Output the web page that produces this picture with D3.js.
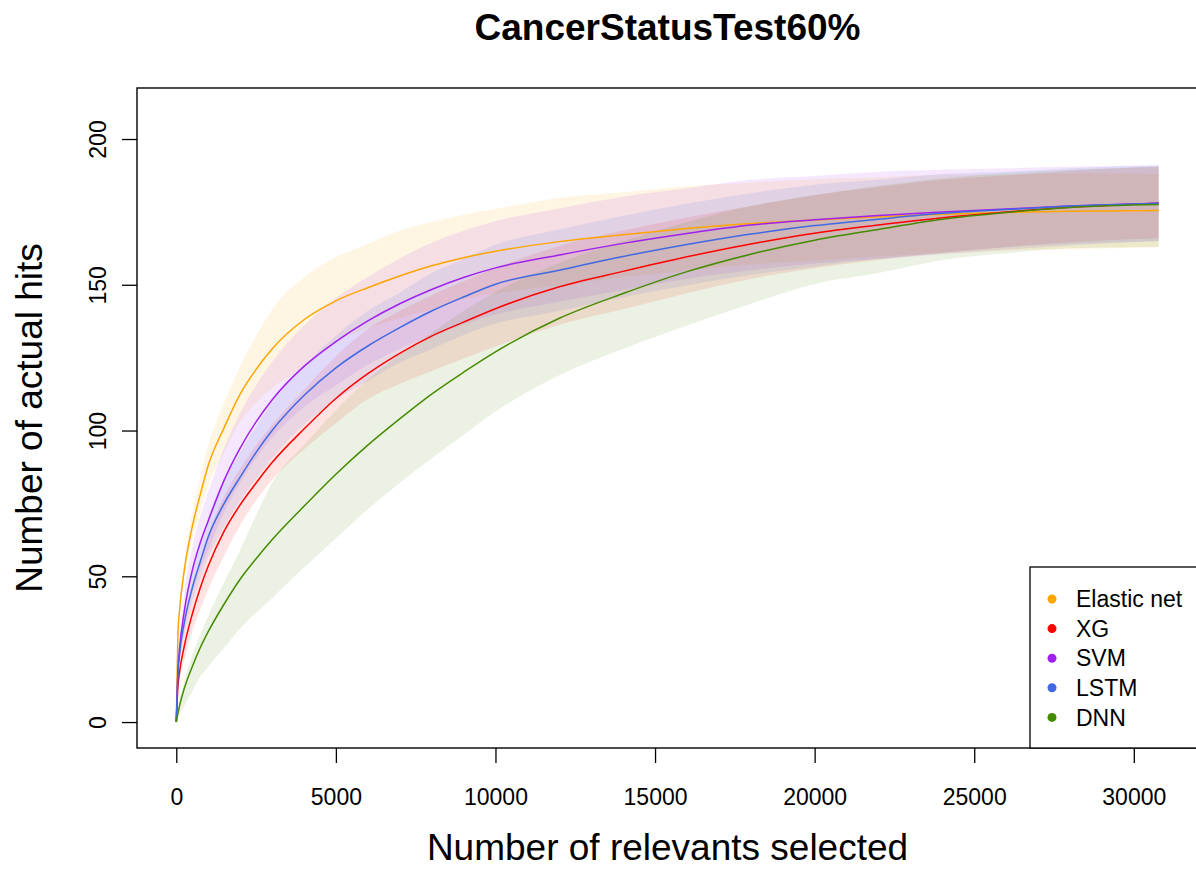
<!DOCTYPE html>
<html>
<head>
<meta charset="utf-8">
<script src="https://cdn.jsdelivr.net/npm/d3@7"></script>
<style>
  html, body { margin: 0; padding: 0; background: #fff; }
  svg { display: block; font-family: "Liberation Sans", Arial, sans-serif; }
</style>
</head>
<body>
<svg id="chart" width="1196" height="870"></svg>
<script>
// Number of relevants selected (x positions of the sampled curve points)
const selected = [0, 50, 100, 250, 500, 750, 1000, 1500, 2000, 2500, 3000, 4000, 5000, 6000, 7000, 8000, 9000, 10000, 12000, 14000, 16000, 18000, 20000, 22000, 24000, 26000, 28000, 30780];

// Mean number of actual hits per model
const elasticMean = [0, 30, 38, 52, 67, 78, 88, 101, 112.5, 121, 128, 138, 144.5, 149, 153, 156.5, 159.3, 161.5, 164.8, 167.2, 169.3, 171, 172.2, 173.3, 174.2, 174.8, 175.2, 175.5];
const xgMean      = [0, 12, 17, 26, 37, 46, 53.5, 65.5, 74.5, 82, 89, 100.5, 111, 119.5, 126.5, 132.4, 137.2, 141.8, 149.3, 154.6, 159.6, 164, 167.7, 170.5, 173, 175, 176.6, 178];
const svmMean     = [0, 18, 25, 38, 52, 61.5, 69, 83, 94, 103, 110.5, 122, 130.5, 137.6, 143.5, 148.4, 152.5, 155.8, 160.2, 164.2, 167.6, 170.5, 172.3, 173.8, 175, 176, 177, 178];
const lstmMean    = [0, 16, 23, 34, 46, 55, 63.5, 75, 84, 92.5, 100, 112, 121.5, 129, 135.3, 141, 145.8, 150.2, 155, 159.7, 163.8, 167.4, 170.3, 172.5, 174.5, 175.8, 177, 178];
const dnnMean     = [0, 3, 5.5, 11.5, 19, 25.5, 31, 40.5, 49, 56, 62.5, 74, 85, 95, 104, 112.5, 120, 127, 138.5, 147, 154.5, 160.5, 165.3, 169, 172.5, 174.8, 176.5, 177.5];

// Lower / upper edges of the variability band per model
const elasticLow  = [0, 29, 36, 49, 62, 72, 81, 92.5, 103, 109.5, 114.5, 121.5, 130.5, 135, 138.5, 141.5, 145, 147, 149.8, 152.7, 154.8, 157, 158.2, 159.8, 160.7, 161.8, 162.2, 163];
const elasticHigh = [0, 31, 40, 55, 72, 84, 95, 109.5, 122, 132.5, 141.5, 152.5, 159.5, 164, 168.5, 171.5, 174, 176, 179.8, 181.7, 183.8, 185, 186.2, 186.8, 187.7, 187.8, 188.2, 188];
const xgLow       = [0, 10, 14, 21, 31, 38.5, 45.5, 57, 67.5, 76, 83, 93.5, 102.5, 110.8, 116, 120.4, 124.7, 128.8, 136.3, 141.6, 147.1, 152, 155.7, 158.5, 161, 163, 164.6, 166];
const xgHigh      = [0, 15, 22, 33, 46, 56, 64.5, 77.5, 87, 95, 102, 114, 125.5, 134.8, 141, 146.4, 151.2, 155.8, 163.3, 168.6, 173.1, 177, 180.7, 183.5, 186, 187.5, 189.1, 190.5];
const svmLow      = [0, 15, 21, 32, 44, 52.5, 59, 72, 82, 90.5, 97.5, 108, 115.5, 122.6, 128, 132.4, 136.5, 139.8, 144.2, 148.2, 152.1, 155, 157.3, 158.8, 160.5, 162, 163.5, 165];
const svmHigh     = [0, 21, 29, 44, 60, 70.5, 79, 94, 106, 115.5, 123.5, 136, 145.5, 152.6, 159, 164.4, 168.5, 171.8, 176.2, 180.2, 183.1, 186, 187.3, 188.8, 189.5, 190, 190.5, 191];
const lstmLow     = [0, 14, 20, 30, 41, 49, 56.5, 67, 76, 83.5, 90.5, 102, 110.5, 117, 123.3, 128, 132.8, 136.7, 141, 145.7, 149.8, 153.4, 156.3, 159, 161, 162.8, 164, 165];
const lstmHigh    = [0, 18, 26, 38, 51, 61, 70.5, 83, 92.5, 101.5, 109.5, 122, 132.5, 141, 147.3, 154, 158.8, 163.7, 169, 173.7, 177.8, 181.4, 184.3, 186, 188, 188.8, 190, 191];
const dnnLow      = [0, 1, 2.5, 5.5, 10.5, 15.5, 19, 25.5, 32, 37.5, 42.5, 53, 63, 73, 82, 90.5, 98.5, 106.5, 119, 128, 136, 143.5, 150.3, 154, 158.5, 160.8, 162.5, 163];
const dnnHigh     = [0, 4, 7, 14, 23, 30, 36.5, 48, 59, 71, 82, 95, 107, 117.5, 126, 133.5, 141, 147.5, 157.5, 165, 171.5, 177, 180.8, 184, 186.5, 188.3, 189.5, 190.5];

// Legend / series names and colours
const models = ["Elastic net", "XG", "SVM", "LSTM", "DNN"];
const colors = ["#FFA500", "#FF0000", "#A020F0", "#4169E1", "#458B00"];
const means  = [elasticMean, xgMean, svmMean, lstmMean, dnnMean];
const lows   = [elasticLow, xgLow, svmLow, lstmLow, dnnLow];
const highs  = [elasticHigh, xgHigh, svmHigh, lstmHigh, dnnHigh];

const xTicks = [0, 5000, 10000, 15000, 20000, 25000, 30000];
const yTicks = [0, 50, 100, 150, 200];

const svg = d3.select("#chart");
const plot = { left: 137, right: 1198, top: 88, bottom: 748 };

const x = d3.scaleLinear().domain([-1231.2, 32011.2]).range([plot.left, plot.right]);
const y = d3.scaleLinear().domain([-8.9, 217.5]).range([plot.bottom, plot.top]);

svg.append("defs").append("clipPath").attr("id", "plotClip")
  .append("rect").attr("x", plot.left).attr("y", plot.top)
  .attr("width", plot.right - plot.left).attr("height", plot.bottom - plot.top);

const layer = svg.append("g").attr("clip-path", "url(#plotClip)");

// Bands
const area = d3.area()
  .curve(d3.curveMonotoneX)
  .x(d => x(d.x)).y0(d => y(d.lo)).y1(d => y(d.hi));
models.forEach((m, i) => {
  const pts = selected.map((v, j) => ({ x: v, lo: lows[i][j], hi: highs[i][j] }));
  layer.append("path").datum(pts)
    .attr("d", area)
    .attr("fill", colors[i])
    .attr("fill-opacity", 0.11)
    .attr("stroke", "none");
});

// Mean curves
const line = d3.line().curve(d3.curveMonotoneX).x(d => x(d.x)).y(d => y(d.v));
models.forEach((m, i) => {
  const pts = selected.map((v, j) => ({ x: v, v: means[i][j] }));
  layer.append("path").datum(pts)
    .attr("d", line)
    .attr("fill", "none")
    .attr("stroke", colors[i])
    .attr("stroke-width", 1.5)
    .attr("stroke-linejoin", "round");
});

// Frame
svg.append("rect")
  .attr("x", plot.left).attr("y", plot.top)
  .attr("width", plot.right - plot.left).attr("height", plot.bottom - plot.top)
  .attr("fill", "none").attr("stroke", "#000").attr("stroke-width", 1.4);

// X axis
const xAxis = svg.append("g").attr("transform", `translate(0,${plot.bottom})`)
  .call(d3.axisBottom(x).tickValues(xTicks).tickSize(15).tickFormat(d3.format("d")));
xAxis.select(".domain").remove();
xAxis.selectAll(".tick line").attr("stroke", "#000").attr("stroke-width", 1.3);
xAxis.selectAll(".tick text").attr("y", 57).attr("dy", 0)
  .attr("font-size", 23).attr("fill", "#000")
  .attr("font-family", "Liberation Sans, Arial, sans-serif");

// Y axis
const yAxis = svg.append("g").attr("transform", `translate(${plot.left},0)`)
  .call(d3.axisLeft(y).tickValues(yTicks).tickSize(15).tickFormat(d3.format("d")));
yAxis.select(".domain").remove();
yAxis.selectAll(".tick line").attr("stroke", "#000").attr("stroke-width", 1.3);
yAxis.selectAll(".tick text")
  .attr("x", null).attr("dy", null)
  .attr("transform", "translate(-31,0) rotate(-90)")
  .attr("text-anchor", "middle")
  .attr("font-size", 23).attr("fill", "#000")
  .attr("font-family", "Liberation Sans, Arial, sans-serif");

// Titles
svg.append("text")
  .attr("x", (plot.left + plot.right) / 2).attr("y", 40)
  .attr("text-anchor", "middle").attr("font-size", 37).attr("font-weight", "bold")
  .text("CancerStatusTest60%");

svg.append("text")
  .attr("x", (plot.left + plot.right) / 2).attr("y", 860)
  .attr("text-anchor", "middle").attr("font-size", 37)
  .text("Number of relevants selected");

svg.append("text")
  .attr("transform", `translate(42,${(plot.top + plot.bottom) / 2}) rotate(-90)`)
  .attr("text-anchor", "middle").attr("font-size", 37)
  .text("Number of actual hits");

// Legend
const legend = svg.append("g");
legend.append("rect")
  .attr("x", 1030).attr("y", 567).attr("width", 240).attr("height", plot.bottom - 567)
  .attr("fill", "#fff").attr("stroke", "#000").attr("stroke-width", 1.3);
models.forEach((m, i) => {
  const cy = 599 + i * 29.6;
  legend.append("circle").attr("cx", 1052).attr("cy", cy).attr("r", 4.5).attr("fill", colors[i]);
  legend.append("text").attr("x", 1076).attr("y", cy).attr("dy", "0.36em")
    .attr("font-size", 23).attr("fill", "#000").text(m);
});
</script>
</body>
</html>
